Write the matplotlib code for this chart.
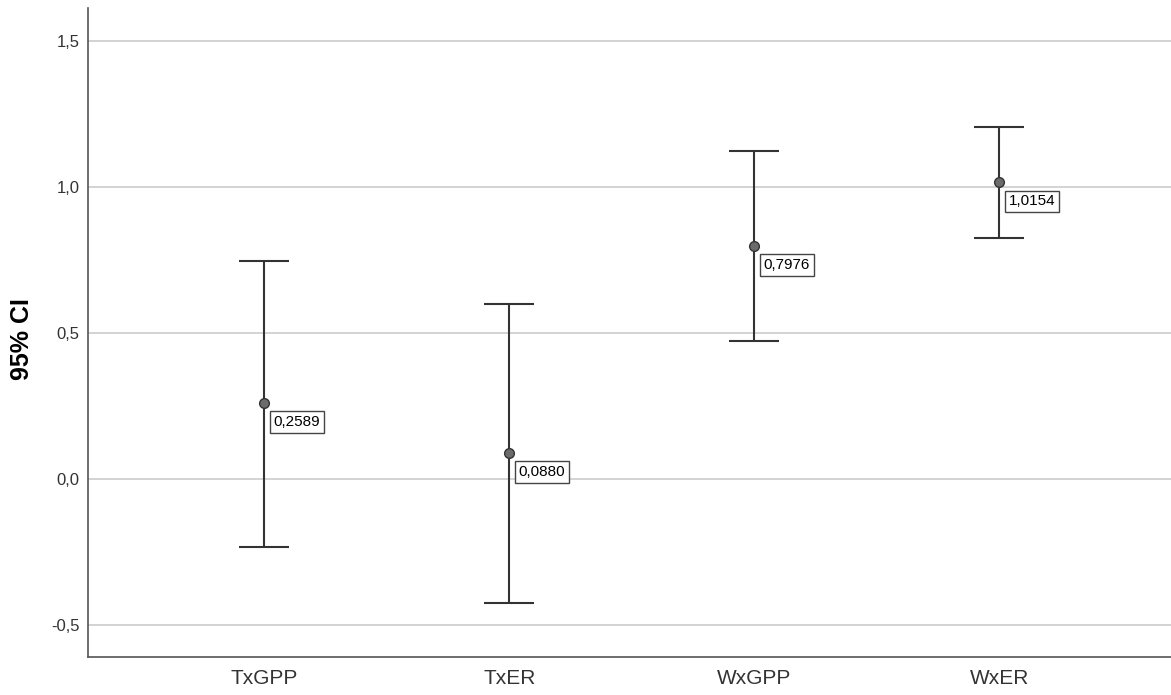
import matplotlib
matplotlib.use('Agg')
import matplotlib.pyplot as plt

plt.rcParams['font.family'] = ['Liberation Sans', 'DejaVu Sans']

categories = ['TxGPP', 'TxER', 'WxGPP', 'WxER']
means = [0.2589, 0.0880, 0.7976, 1.0154]
upper = [0.747, 0.599, 1.123, 1.205]
lower = [-0.233, -0.425, 0.473, 0.825]
yticks = [-0.5, 0.0, 0.5, 1.0, 1.5]

fig = plt.figure(figsize=(11.71, 6.95), dpi=100)
ax = fig.add_axes([0.0751, 0.0547, 0.9249, 0.934])

x = list(range(len(categories)))
yerr = [[m - l for m, l in zip(means, lower)], [u - m for m, u in zip(means, upper)]]
ax.errorbar(x, means, yerr=yerr, fmt='o', color='#333333', ecolor='#333333',
            elinewidth=1.5, capsize=18, capthick=1.5, markersize=7,
            markerfacecolor='#6b6b6b', markeredgecolor='#333333', zorder=3)

for xi, m in zip(x, means):
    ax.annotate(f'{m:.4f}'.replace('.', ','), (xi, m), xytext=(6.5, -13.7),
                textcoords='offset points', ha='left', va='center', fontsize=11,
                bbox=dict(boxstyle='square,pad=0.25', fc='white', ec='#444444', lw=1),
                zorder=4)

ax.set_xlim(-0.72, 3.70)
ax.set_ylim(-0.61, 1.613)
ax.set_yticks(yticks)
ax.set_yticklabels([f'{t:.1f}'.replace('.', ',') for t in yticks])
ax.set_xticks(x)
ax.set_xticklabels(categories)
ax.yaxis.grid(True, color='#cccccc', lw=1.2)
ax.set_axisbelow(True)
ax.tick_params(length=0, colors='#333333')
ax.tick_params(axis='y', labelsize=12, pad=6)
ax.tick_params(axis='x', labelsize=15, pad=9)
for s in ['top', 'right']:
    ax.spines[s].set_visible(False)
for s in ['left', 'bottom']:
    ax.spines[s].set_color('#555555')
    ax.spines[s].set_linewidth(1.2)
ax.set_ylabel('95% CI', fontsize=18, fontweight='bold', va='center')
ax.yaxis.set_label_coords(-0.061, 0.49)

fig.savefig('out.png', dpi=100)
